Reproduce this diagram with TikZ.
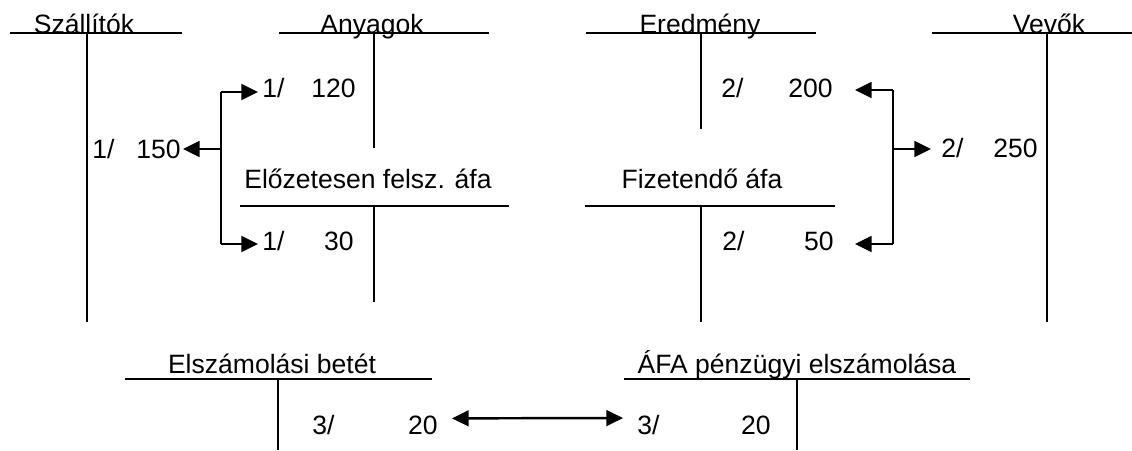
\documentclass[tikz,border=0pt]{standalone}
\usepackage{fontspec}
\setmainfont{Liberation Sans}
\usetikzlibrary{arrows.meta}

\begin{document}
\begin{tikzpicture}
[x=0.02cm,y=-0.02cm,
 every node/.style={font=\fontsize{15.1}{18}\selectfont,inner sep=0pt},
 title/.style={anchor=base},
 slash/.style={anchor=base west},
 amount/.style={anchor=base east},
 tline/.style={line width=1.2pt},
 bracket/.style={line width=1.4pt},
 arr/.style={line width=1.4pt,-{Triangle[length=9.5pt,width=9pt]}},
 arrboth/.style={line width=1.4pt,{Triangle[length=9.5pt,width=9pt]}-{Triangle[length=9.5pt,width=9pt]}}]
\useasboundingbox (0,0) rectangle (1132,450);

% account titles
\node[title] (szall) at (84,33) {Szállítók};
\node[title] (anyag) at (372,33) {Anyagok};
\node[title] (ered) at (700,33) {Eredmény};
\node[title] (vevo) at (1049,33) {Vevők};
\node[title] (eloz) at (368,188) {Előzetesen felsz. áfa};
\node[title] (fizet) at (702,188) {Fizetendő áfa};
\node[title] (elsz) at (272,373) {Elszámolási betét};
\node[title] (afa) at (797,373) {ÁFA pénzügyi elszámolása};

% T accounts
\draw[tline] (10,33) -- (182,33);   \draw[tline] (87,33) -- (87,322);
\draw[tline] (279,33) -- (489,33);  \draw[tline] (374,33) -- (374,148);
\draw[tline] (586,33) -- (816,33);  \draw[tline] (701,33) -- (701,129);
\draw[tline] (932,33) -- (1132,33); \draw[tline] (1047,33) -- (1047,322);
\draw[tline] (240,206) -- (509,206); \draw[tline] (374,206) -- (374,302);
\draw[tline] (585,206) -- (835,206); \draw[tline] (701,206) -- (701,322);
\draw[tline] (125,379) -- (432,379); \draw[tline] (278,379) -- (278,450);
\draw[tline] (624,379) -- (970,379); \draw[tline] (797,379) -- (797,450);

% entries
\node[slash] (s1) at (92,158) {1/};
\node[amount] (s150) at (181,158) {150};
\node[slash] (a1) at (262,97) {1/};
\node[amount] (a120) at (356,97) {120};
\node[slash] (p1) at (262,250) {1/};
\node[amount] (p30) at (354,250) {30};
\node[slash] (e2) at (721,97) {2/};
\node[amount] (e200) at (833,97) {200};
\node[slash] (f2) at (722,250) {2/};
\node[amount] (f50) at (834,250) {50};
\node[slash] (v2) at (941,157) {2/};
\node[amount] (v250) at (1038,157) {250};
\node[slash] (b3) at (312,434) {3/};
\node[amount] (b20) at (438,434) {20};
\node[slash] (c3) at (637,434) {3/};
\node[amount] (c20) at (771,434) {20};

% postings 1
\coordinate (lt) at (221,92);
\coordinate (lm) at (221,149);
\coordinate (lb) at (221,244);
\draw[bracket] (lt) -- (lb);
\draw[arr,shorten >=0.08cm] (lt) -- (lt -| a1.west);
\draw[arr,shorten >=0.04cm] (lm) -- (lm -| s150.east);
\draw[arr,shorten >=0.08cm] (lb) -- (lb -| p1.west);

% postings 2
\coordinate (rt) at (893,90);
\coordinate (rm) at (893,149);
\coordinate (rb) at (893,244);
\draw[bracket] (rt) -- (rb);
\draw[arr,shorten >=0.44cm] (rt) -- (rt -| e200.east);
\draw[arr,shorten >=0.2cm] (rm) -- (rm -| v2.west);
\draw[arr,shorten >=0.42cm] (rb) -- (rb -| f50.east);

% posting 3
\draw[arrboth,shorten <=0.28cm,shorten >=0.28cm] ([yshift=0.13cm]b20.east) -- ([yshift=0.13cm]c3.west);
\end{tikzpicture}
\end{document}
